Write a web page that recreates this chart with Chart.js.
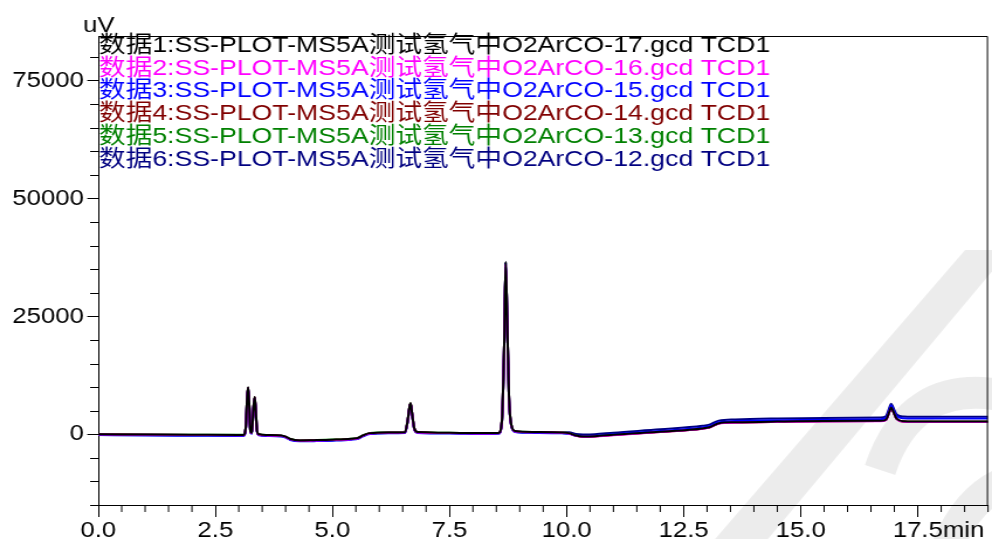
<!DOCTYPE html>
<html>
<head>
<meta charset="utf-8">
<script src="https://cdn.jsdelivr.net/npm/chart.js@4"></script>
<style>
  html, body { margin: 0; padding: 0; background: #fff; overflow: hidden; }
  canvas { display: block; }
</style>
</head>
<body>
<!-- the source screenshot is stretched sideways, so the canvas is drawn narrower and widened by css -->
<canvas id="chart" width="848" height="539" style="width:992px;height:539px"></canvas>
<script>
// retention time, min
var times = [0, 1, 2, 3, 3.1, 3.15, 3.18, 3.2, 3.22, 3.25, 3.28, 3.31, 3.34, 3.36, 3.39, 3.43,
  3.6, 3.9, 4.0, 4.1, 4.3, 4.6, 5.0, 5.4, 5.55, 5.65, 5.8, 6.2, 6.55, 6.6, 6.65, 6.67, 6.7,
  6.75, 6.82, 7.5, 8.2, 8.55, 8.62, 8.67, 8.7, 8.73, 8.77, 8.82, 8.9, 9.3, 9.9, 10.05, 10.2,
  10.35, 10.6, 11, 12, 12.9, 13.05, 13.25, 13.6, 14.5, 15.5, 16.7, 16.82, 16.9, 16.93, 16.97,
  17.05, 17.2, 17.4, 18, 19];

// detector signal, uV
var data1 = [0, -50, -100, -150, -150, 1500, 8000, 10000, 7000, 600, 300, 5000, 7900, 5500, 800, 0,
  -150, -250, -500, -1000, -1300, -1250, -1150, -950, -750, -250, 250, 400, 450, 2500, 6000, 6600, 4500,
  1200, 500, 350, 250, 300, 3000, 20000, 36600, 25000, 8000, 2000, 700, 500, 400, 250, -250,
  -450, -400, -100, 550, 1250, 1500, 2350, 2550, 2700, 2800, 2850, 3100, 5000, 5700, 5000,
  3300, 2750, 2700, 2700, 2700];
var data2 = [-50, -100, -150, -200, -200, 1400, 7800, 9800, 6900, 500, 250, 4900, 7800, 5400, 700, -80,
  -230, -330, -580, -1080, -1380, -1330, -1230, -1030, -830, -330, 170, 320, 370, 2400, 5900, 6500, 4400,
  1100, 400, 270, 170, 220, 2900, 19800, 36200, 24800, 7800, 1900, 600, 420, 320, 170, -330,
  -530, -480, -180, 470, 1170, 1420, 2270, 2470, 2620, 2720, 2770, 3000, 4900, 5600, 4900,
  3200, 2670, 2620, 2620, 2620];
var data3 = [-150, -250, -300, -350, -350, 1300, 7700, 9700, 6800, 400, 100, 4800, 7600, 5300, 600, -200,
  -350, -450, -700, -1200, -1500, -1450, -1350, -1150, -950, -450, 50, 200, 250, 2300, 5800, 6400, 4300,
  1000, 300, 150, 50, 100, 2800, 19600, 36400, 24600, 7700, 1800, 500, 300, 200, 100, -300,
  -400, -350, 0, 700, 1450, 1700, 2550, 2800, 3000, 3100, 3200, 3500, 5450, 6150, 5450,
  3850, 3400, 3350, 3350, 3350];
var data4 = [-30, -80, -130, -180, -180, 1450, 7900, 9900, 6950, 550, 250, 4950, 7850, 5450, 750, -50,
  -200, -300, -550, -1050, -1350, -1300, -1200, -1000, -800, -300, 200, 350, 400, 2450, 5950, 6550, 4450,
  1150, 450, 300, 200, 250, 2950, 19900, 36000, 24900, 7900, 1950, 650, 450, 350, 200, -300,
  -500, -450, -150, 500, 1200, 1450, 2300, 2500, 2650, 2750, 2800, 3050, 4950, 5650, 4950,
  3250, 2700, 2650, 2650, 2650];
var data5 = [30, -20, -70, -120, -120, 1480, 7950, 9950, 6980, 580, 280, 4980, 7880, 5480, 780, 20,
  -130, -230, -480, -980, -1280, -1230, -1130, -930, -730, -230, 270, 420, 470, 2480, 5980, 6580, 4480,
  1180, 480, 330, 230, 280, 2980, 19950, 36300, 24950, 7950, 1980, 680, 480, 380, 230, -270,
  -470, -420, -120, 530, 1230, 1480, 2330, 2530, 2680, 2780, 2830, 3080, 4980, 5680, 4980,
  3280, 2730, 2680, 2680, 2680];
var data6 = [-100, -150, -200, -250, -250, 1400, 7900, 9900, 6900, 500, 200, 4900, 7800, 5400, 700, -100,
  -250, -350, -600, -1100, -1400, -1350, -1250, -1050, -850, -350, 150, 300, 350, 2400, 5900, 6500, 4400,
  1100, 400, 250, 150, 200, 2900, 19900, 36500, 24900, 7900, 1900, 600, 400, 300, 450, 50,
  -50, 0, 350, 1050, 1800, 2050, 2900, 3150, 3350, 3450, 3550, 3850, 5800, 6500, 5800,
  4200, 3750, 3700, 3700, 3700];

var seriesLabels = [
  "数据1:SS-PLOT-MS5A测试氢气中O2ArCO-17.gcd TCD1",
  "数据2:SS-PLOT-MS5A测试氢气中O2ArCO-16.gcd TCD1",
  "数据3:SS-PLOT-MS5A测试氢气中O2ArCO-15.gcd TCD1",
  "数据4:SS-PLOT-MS5A测试氢气中O2ArCO-14.gcd TCD1",
  "数据5:SS-PLOT-MS5A测试氢气中O2ArCO-13.gcd TCD1",
  "数据6:SS-PLOT-MS5A测试氢气中O2ArCO-12.gcd TCD1"
];
var seriesColors = ["#000000", "#ff00ff", "#0000ff", "#800000", "#008000", "#000080"];
var seriesData = [data1, data2, data3, data4, data5, data6];

var xTicks = [0, 2.5, 5, 7.5, 10, 12.5, 15, 17.5];
var yTicks = [0, 25000, 50000, 75000];
var xUnit = "min";
var yUnit = "uV";

var FONT = "'Liberation Sans', Arial, 'Noto Sans CJK SC', sans-serif";
Chart.defaults.font.family = FONT;
Chart.defaults.color = "#000";

function points(values) {
  return times.map(function(t, i) { return { x: t, y: values[i] }; });
}

var datasets = seriesData.map(function(values, i) {
  return {
    label: seriesLabels[i],
    data: points(values),
    borderColor: seriesColors[i],
    borderWidth: 2,
    pointRadius: 0,
    cubicInterpolationMode: "monotone",
    fill: false
  };
});

// light grey logo behind the traces (screen coords of the screenshot, scaled to the canvas)
var watermark = {
  id: "watermark",
  beforeDatasetsDraw: function(chart) {
    var ctx = chart.ctx;
    var k = 848 / 992;
    ctx.save();
    ctx.scale(k, 1);
    ctx.fillStyle = "rgba(0,0,0,0.075)";
    ctx.strokeStyle = "rgba(0,0,0,0.075)";
    ctx.beginPath();
    ctx.moveTo(715, 539);
    ctx.lineTo(768, 539);
    ctx.lineTo(1010, 250);
    ctx.lineTo(965, 250);
    ctx.closePath();
    ctx.fill();
    ctx.lineWidth = 32;
    ctx.lineCap = "butt";
    ctx.beginPath();
    ctx.moveTo(880, 470);
    ctx.quadraticCurveTo(910, 380, 1000, 395);
    ctx.stroke();
    ctx.beginPath();
    ctx.moveTo(948, 545);
    ctx.quadraticCurveTo(968, 500, 1000, 485);
    ctx.stroke();
    ctx.restore();
  }
};

// frame, minor ticks, unit labels and the text legend
var decorations = {
  id: "decorations",
  afterDraw: function(chart) {
    var ctx = chart.ctx, area = chart.chartArea;
    var xs = chart.scales.x, ys = chart.scales.y;
    ctx.save();
    ctx.strokeStyle = "#000";
    ctx.lineWidth = 1;
    ctx.beginPath();
    ctx.moveTo(area.left, area.top + 0.5);
    ctx.lineTo(area.right - 0.5, area.top + 0.5);
    ctx.lineTo(area.right - 0.5, area.bottom);
    for (var v = -15000; v <= 80000; v += 5000) {
      if (v % 25000 === 0) continue;
      var py = Math.round(ys.getPixelForValue(v)) + 0.5;
      ctx.moveTo(area.left - 7, py);
      ctx.lineTo(area.left, py);
    }
    for (var s = 1; s <= 38; s++) {
      if (s % 5 === 0) continue;
      var px = xs.getPixelForValue(s / 2);
      ctx.moveTo(px, area.bottom);
      ctx.lineTo(px, area.bottom + 7);
    }
    ctx.stroke();

    ctx.fillStyle = "#000";
    ctx.font = "22px " + FONT;
    ctx.textBaseline = "alphabetic";
    ctx.textAlign = "left";
    ctx.fillText(yUnit, 71, 32);

    var last = xTicks[xTicks.length - 1];
    var lx = xs.getPixelForValue(last) + ctx.measureText(last.toFixed(1)).width / 2;
    ctx.textBaseline = "middle";
    ctx.fillText(xUnit, lx, area.bottom + 12 + 1 + 13.2);

    ctx.font = "22.8px " + FONT;
    chart.data.datasets.forEach(function(ds, i) {
      ctx.fillStyle = ds.borderColor;
      ctx.fillText(ds.label, 84.6, 45.5 + i * 22.8);
    });
    ctx.restore();
  }
};

new Chart(document.getElementById("chart"), {
  type: "line",
  data: { datasets: datasets },
  options: {
    responsive: false,
    devicePixelRatio: 1,
    animation: false,
    layout: { padding: { top: 36, right: 3.4, left: 0, bottom: 0 } },
    plugins: { legend: { display: false }, tooltip: { enabled: false } },
    scales: {
      x: {
        type: "linear",
        min: 0,
        max: 19,
        afterBuildTicks: function(scale) {
          scale.ticks = xTicks.map(function(v) { return { value: v }; });
        },
        afterFit: function(scale) { scale.height = 34; },
        ticks: {
          autoSkip: false,
          maxRotation: 0,
          padding: 1,
          font: { size: 22 },
          callback: function(v) { return Number(v).toFixed(1); }
        },
        grid: { drawOnChartArea: false, tickLength: 12, tickColor: "#000" },
        border: { display: true, color: "#000", width: 1 }
      },
      y: {
        min: -15000,
        max: 84500,
        afterBuildTicks: function(scale) {
          scale.ticks = yTicks.map(function(v) { return { value: v }; });
        },
        afterFit: function(scale) { scale.width = 84; },
        ticks: {
          padding: 2.8,
          font: { size: 22 },
          callback: function(v) { return String(v); }
        },
        grid: { drawOnChartArea: false, tickLength: 9.4, tickColor: "#000" },
        border: { display: true, color: "#000", width: 1 }
      }
    }
  },
  plugins: [watermark, decorations]
});
</script>
</body>
</html>
